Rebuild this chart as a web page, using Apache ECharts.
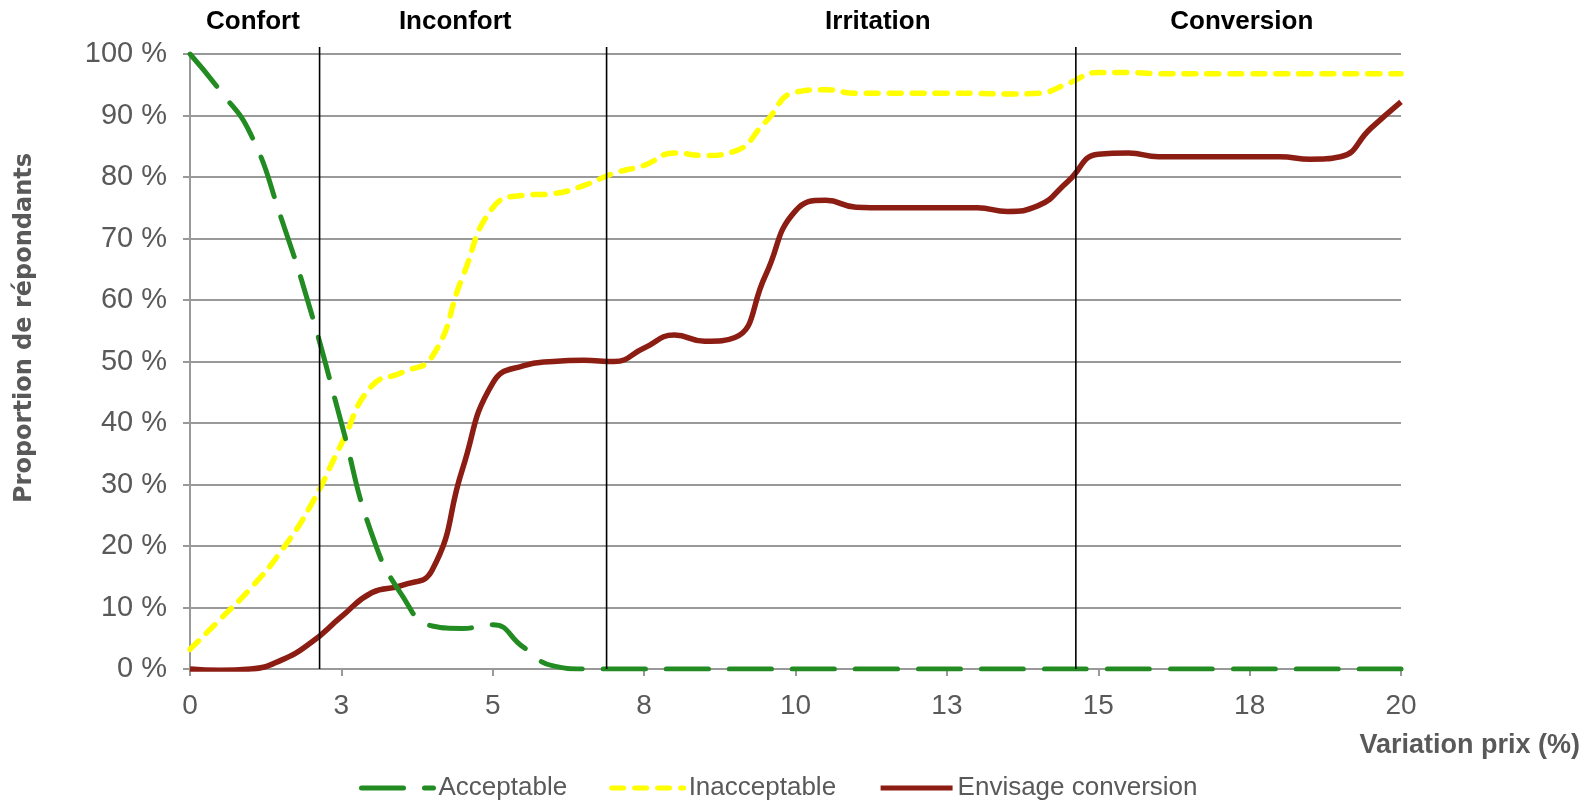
<!DOCTYPE html>
<html>
<head>
<meta charset="utf-8">
<script src="https://cdn.jsdelivr.net/npm/echarts@6/dist/echarts.min.js"></script>
<style>
  html, body { margin: 0; padding: 0; background: #fff; }
  #root { width: 1585px; height: 801px; }
</style>
</head>
<body>
<div id="root"></div>
<script>
// price variation (%) - one reading every 0.5 point
const priceSteps = [0, 0.5, 1, 1.5, 2, 2.5, 3, 3.5, 4, 4.5, 5, 5.5, 6, 6.5, 7, 7.5, 8, 8.5, 9, 9.5,
  10, 10.5, 11, 11.5, 12, 12.5, 13, 13.5, 14, 14.5, 15, 15.5, 16, 16.5, 17, 17.5, 18, 18.5, 19, 19.5, 20];

const acceptable = [100, 94, 87, 73.5, 58, 40, 22, 12, 7, 6.6, 7.2, 3.6, 0.5, 0, 0, 0, 0, 0, 0, 0,
  0, 0, 0, 0, 0, 0, 0, 0, 0, 0, 0, 0, 0, 0, 0, 0, 0, 0, 0, 0, 0];

const inacceptable = [3.2, 8.1, 13.1, 19.1, 26.7, 36.6, 46, 48.2, 50.8, 63.7, 75, 77, 77.3, 78.6, 80.6, 81.9, 83.9, 83.5, 84.2, 88.9,
  93.8, 94.2, 93.6, 93.6, 93.6, 93.6, 93.6, 93.5, 93.6, 95.2, 97, 97, 96.8, 96.8, 96.8, 96.8, 96.8, 96.8, 96.8, 96.8, 96.8];

const envisageConversion = [0, -0.2, 0, 1.4, 4.3, 8.5, 12.4, 13.6, 16.1, 32.5, 46.5, 49.3, 50, 50.2, 50, 52.2, 54.3, 53.3, 53.9, 63.9,
  74.5, 76.2, 75.1, 75, 75, 75, 75, 74.4, 75.3, 79.3, 83.7, 83.9, 83.3, 83.3, 83.3, 83.3, 83.3, 82.9, 83.3, 87.9, 92.2];

// zone limits and zone names
const zoneLimits = [2.14, 6.88, 14.63];
const zoneNames = ['Confort', 'Inconfort', 'Irritation', 'Conversion'];
const zoneCenters = [1.04, 4.38, 11.36, 17.37];

const toPairs = values => priceSteps.map((x, i) => [x, values[i]]);

const chart = echarts.init(document.getElementById('root'));

const option = {
  animation: false,
  backgroundColor: '#fff',
  grid: { left: 190, right: 184, top: 54, bottom: 132, containLabel: false },
  legend: {
    left: 354,
    top: 770,
    itemWidth: 72,
    itemHeight: 14,
    itemGap: 42,
    itemStyle: { opacity: 0 },
    lineStyle: { width: 5 },
    textStyle: { fontFamily: 'Liberation Sans', fontSize: 26, color: '#595959' },
    data: ['Acceptable', 'Inacceptable', 'Envisage conversion']
  },
  xAxis: {
    type: 'value',
    min: 0,
    max: 20,
    interval: 2.5,
    axisLine: { show: true, lineStyle: { color: '#999', width: 2 } },
    axisTick: { show: true, length: 7, lineStyle: { color: '#999', width: 2 } },
    splitLine: { show: false },
    axisLabel: {
      margin: 23,
      fontFamily: 'Liberation Sans',
      fontSize: 28,
      color: '#595959',
      formatter: v => String(Math.round(v))
    }
  },
  yAxis: {
    type: 'value',
    min: 0,
    max: 100,
    interval: 10,
    axisLine: { show: true, lineStyle: { color: '#999', width: 2 } },
    axisTick: { show: true, length: 7, lineStyle: { color: '#999', width: 2 } },
    splitLine: { show: true, lineStyle: { color: '#999', width: 2 } },
    axisLabel: {
      margin: 23,
      fontFamily: 'Liberation Sans',
      fontSize: 29,
      color: '#595959',
      formatter: v => v + ' %'
    }
  },
  series: [
    {
      name: 'Acceptable',
      type: 'line',
      data: toPairs(acceptable),
      smooth: 0.5,
      symbol: 'none',
      z: 4,
      lineStyle: { color: '#228b22', width: 5, type: [42, 21], cap: 'round' },
      itemStyle: { color: '#228b22' }
    },
    {
      name: 'Inacceptable',
      type: 'line',
      data: toPairs(inacceptable),
      smooth: 0.5,
      symbol: 'none',
      z: 3,
      lineStyle: { color: '#ffff00', width: 5.5, type: [12, 11], cap: 'round' },
      itemStyle: { color: '#ffff00' }
    },
    {
      name: 'Envisage conversion',
      type: 'line',
      data: toPairs(envisageConversion),
      smooth: 0.5,
      symbol: 'none',
      z: 3,
      lineStyle: { color: '#8c1d13', width: 5.5 },
      itemStyle: { color: '#8c1d13' }
    }
  ]
};

chart.setOption(option);

// zone limits, zone names above the plot and the axis titles
const yTop = chart.convertToPixel({ yAxisIndex: 0 }, 100) - 7;
const yBottom = chart.convertToPixel({ yAxisIndex: 0 }, 0);

const limitLines = zoneLimits.map(v => {
  const x = chart.convertToPixel({ xAxisIndex: 0 }, v);
  return {
    type: 'line',
    z: 10,
    silent: true,
    shape: { x1: x, y1: yTop, x2: x, y2: yBottom },
    style: { stroke: '#000', lineWidth: 1.6 }
  };
});

const zoneTexts = zoneNames.map((name, i) => ({
  type: 'text',
  x: chart.convertToPixel({ xAxisIndex: 0 }, zoneCenters[i]),
  y: 22,
  style: {
    text: name,
    fontFamily: 'Liberation Sans',
    fontWeight: 'bold',
    fontSize: 26,
    fill: '#000',
    align: 'center',
    verticalAlign: 'middle'
  }
}));

chart.setOption({
  graphic: limitLines.concat(zoneTexts, [
    {
      type: 'text',
      x: 25,
      y: 328,
      rotation: Math.PI / 2,
      style: {
        text: 'Proportion de répondants',
        fontFamily: 'DejaVu Sans',
        fontWeight: 'bold',
        fontSize: 24,
        fill: '#595959',
        align: 'center',
        verticalAlign: 'middle'
      }
    },
    {
      type: 'text',
      x: 1580,
      y: 746,
      style: {
        text: 'Variation prix (%)',
        fontFamily: 'Liberation Sans',
        fontWeight: 'bold',
        fontSize: 27,
        fill: '#595959',
        align: 'right',
        verticalAlign: 'middle'
      }
    }
  ])
});
</script>
</body>
</html>
